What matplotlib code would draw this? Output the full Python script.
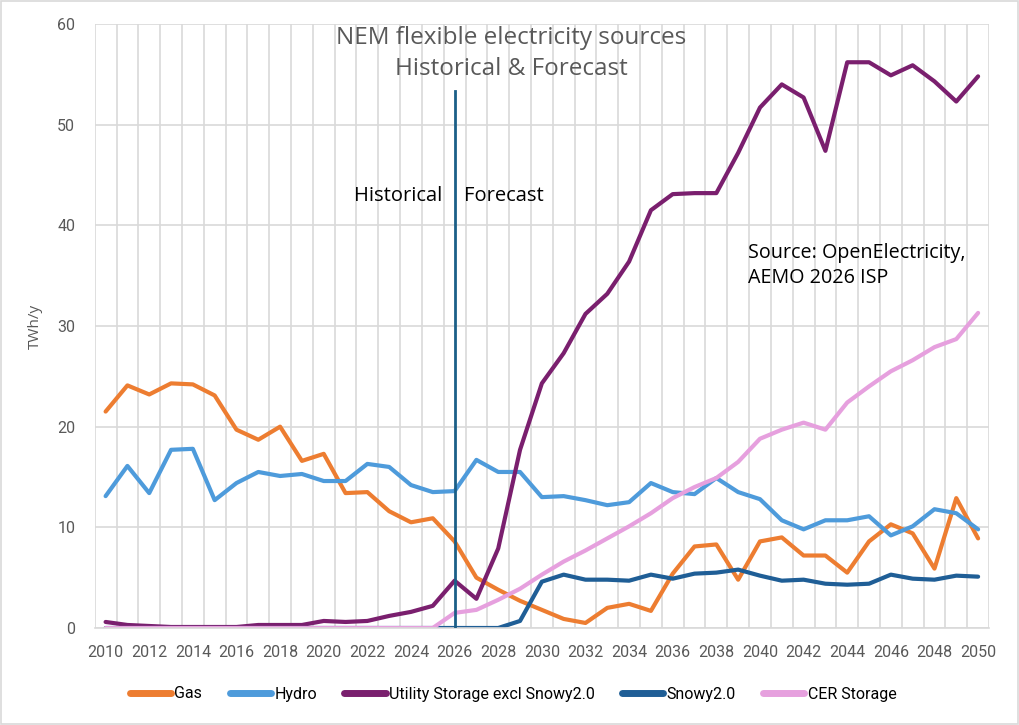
import matplotlib
matplotlib.use("Agg")
import matplotlib.pyplot as plt
from matplotlib.patches import Rectangle

years = list(range(2010, 2051))

gas = [21.5, 24.1, 23.2, 24.3, 24.2, 23.1, 19.7, 18.7, 20.0, 16.6,
       17.3, 13.4, 13.5, 11.6, 10.5, 10.9, 8.6, 5.0, 3.8, 2.7,
       1.8, 0.9, 0.5, 2.0, 2.4, 1.7, 5.4, 8.1, 8.3, 4.8,
       8.6, 9.0, 7.2, 7.2, 5.5, 8.6, 10.3, 9.4, 5.9, 12.9, 8.9]
hydro = [13.1, 16.1, 13.4, 17.7, 17.8, 12.7, 14.4, 15.5, 15.1, 15.3,
         14.6, 14.6, 16.3, 16.0, 14.2, 13.5, 13.6, 16.7, 15.5, 15.5,
         13.0, 13.1, 12.7, 12.2, 12.5, 14.4, 13.5, 13.3, 14.9, 13.5,
         12.8, 10.7, 9.8, 10.7, 10.7, 11.1, 9.2, 10.1, 11.8, 11.4, 9.8]
utility = [0.6, 0.3, 0.2, 0.1, 0.1, 0.1, 0.1, 0.3, 0.3, 0.3,
           0.7, 0.6, 0.7, 1.2, 1.6, 2.2, 4.7, 2.9, 7.9, 17.7,
           24.3, 27.3, 31.2, 33.2, 36.4, 41.5, 43.1, 43.2, 43.2, 47.2,
           51.7, 54.0, 52.7, 47.4, 56.2, 56.2, 54.9, 55.9, 54.3, 52.3, 54.8]
snowy = [0.0] * 19 + [0.7,
         4.6, 5.3, 4.8, 4.8, 4.7, 5.3, 4.9, 5.4, 5.5, 5.8,
         5.2, 4.7, 4.8, 4.4, 4.3, 4.4, 5.3, 4.9, 4.8, 5.2, 5.1]
cer = [0.0] * 16 + [1.5, 1.8, 2.8, 3.9,
       5.3, 6.6, 7.7, 8.9, 10.1, 11.4, 12.9, 14.0, 14.9, 16.5,
       18.8, 19.7, 20.4, 19.7, 22.4, 24.0, 25.5, 26.6, 27.9, 28.7, 31.3]

series_names = ["Gas", "Hydro", "Utility Storage excl Snowy2.0", "Snowy2.0", "CER Storage"]
series_colors = ["#ED7D31", "#4E9BDB", "#7A1F6E", "#1F5E96", "#E6A0DE"]

fig = plt.figure(figsize=(10.2, 7.25), dpi=100)
ax = fig.add_axes([94.7 / 1020, 1 - 628 / 725, (989 - 94.7) / 1020, (628 - 24) / 725])

x = list(range(len(years)))
for vals, name, col in zip([gas, hydro, utility, snowy, cer], series_names, series_colors):
    ax.plot(x, vals, color=col, lw=3.0, label=name, solid_capstyle="round", solid_joinstyle="round")

ax.set_xlim(-0.5, len(years) - 0.5)
ax.set_ylim(0, 60)
ax.set_yticks(range(0, 61, 10))
ax.set_xticks(x[::2])
ax.set_xticklabels([str(y) for y in years[::2]], family="Roboto", fontsize=11.5, color="#595959")
ax.set_xticks([i - 0.5 for i in range(len(years) + 1)], minor=True)
ax.tick_params(which="both", length=0)
ax.tick_params(axis="x", pad=12)
ax.tick_params(axis="y", labelsize=11.5, labelcolor="#595959", pad=14)
for lab in ax.get_yticklabels():
    lab.set_family("Roboto")
ax.grid(axis="y", which="major", color="#D9D9D9", lw=1.2)
ax.grid(axis="x", which="minor", color="#D9D9D9", lw=1.2)
ax.grid(axis="x", which="major", visible=False)
ax.set_axisbelow(True)
for s in ["left", "right", "top"]:
    ax.spines[s].set_visible(False)
ax.spines["bottom"].set_color("#D9D9D9")
ax.spines["bottom"].set_linewidth(1.2)

ax.set_ylabel("TWh/y", family="Open Sans", fontsize=11, color="#595959", labelpad=10)

# forecast divider
i26 = years.index(2026)
ax.axvline(i26, ymin=0, ymax=53.3 / 60, color="#1B5F87", lw=2, zorder=5)
ax.text(i26 - 0.55, 42.9, "Historical", ha="right", va="center", family="Open Sans", fontsize=14.5)
ax.text(i26 + 0.45, 42.9, "Forecast", ha="left", va="center", family="Open Sans", fontsize=14.5)
ax.text(years.index(2039) + 0.45, 36.0, "Source: OpenElectricity,\nAEMO 2026 ISP", ha="left", va="center",
        family="Open Sans", fontsize=14.2, linespacing=1.35)

fig.text(0.501, 0.926, "NEM flexible electricity sources\nHistorical & Forecast", ha="center", va="center",
         family="Open Sans", fontsize=17.5, color="#595959", linespacing=1.4)

leg = fig.legend(loc="center", bbox_to_anchor=(0.503, 1 - 694 / 725), ncol=5, frameon=False,
                 prop={"family": "Roboto", "size": 11.5}, handlelength=2.6, columnspacing=1.7,
                 handletextpad=0.2)
for h in leg.get_lines():
    h.set_linewidth(5)

fig.patches.append(Rectangle((0.001, 0.001), 0.997, 0.997, transform=fig.transFigure, fill=False,
                             edgecolor="#D9D9D9", lw=1.2))

fig.savefig("out.png", dpi=100)
